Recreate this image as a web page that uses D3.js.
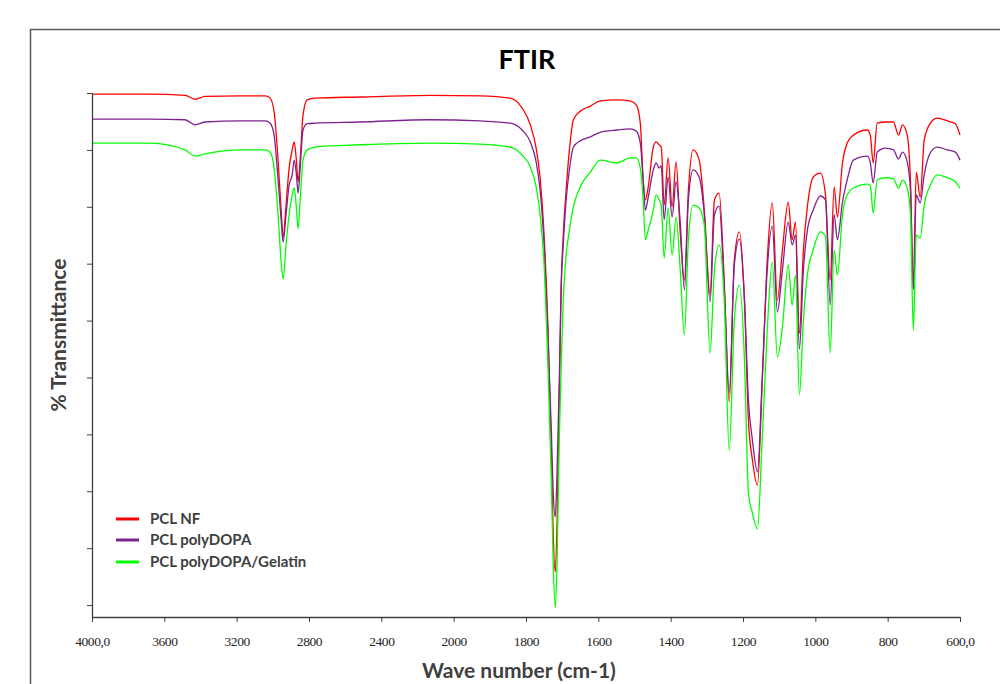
<!DOCTYPE html>
<html>
<head>
<meta charset="utf-8">
<script src="https://cdn.jsdelivr.net/npm/d3@7"></script>
<style>
  body { margin: 0; background: #fff; }
  svg { display: block; }
  .axis path, .axis line { stroke: #404040; }
</style>
</head>
<body>
<svg width="1000" height="684"></svg>
<script>
// wave numbers (cm-1) shared by the three spectra
var wavenumbers = [4000, 3679, 3485, 3430, 3375, 3181, 3043, 3015, 2993, 2971,
  2954, 2943, 2927, 2910, 2893, 2882, 2871, 2860, 2849, 2833,
  2810, 2766, 2517, 2130, 1927, 1844, 1811, 1788, 1772, 1761,
  1750, 1739, 1730, 1725, 1719, 1714, 1708, 1703, 1697, 1689,
  1680, 1669, 1650, 1622, 1595, 1548, 1512, 1495, 1484, 1476,
  1470, 1462, 1448, 1440, 1432, 1426, 1418, 1407, 1396, 1385,
  1374, 1362, 1351, 1338, 1321, 1307, 1291, 1279, 1266, 1252,
  1238, 1224, 1210, 1196, 1185, 1174, 1160, 1147, 1133, 1119,
  1105, 1091, 1075, 1064, 1055, 1044, 1033, 1022, 1006, 986,
  972, 959, 948, 939, 925, 912, 895, 856, 848, 840,
  829, 806, 784, 770, 759, 746, 737, 729, 721, 710,
  699, 682, 663, 635, 613, 600];

// % transmittance
var pclNF = [99.8, 99.8, 99.6, 98.9, 99.4, 99.5, 99.5, 99.1, 96.7, 88.2,
  79.4, 74.7, 80.3, 86.8, 90.0, 91.4, 88.6, 84.4, 88.2, 96.1,
  98.8, 99.1, 99.3, 99.6, 99.5, 99.1, 97.4, 94.4, 90.3, 85.1,
  75.0, 58.3, 37.2, 23.2, 15.8, 24.9, 46.0, 65.4, 75.0, 82.9,
  90.0, 95.3, 96.8, 97.7, 98.6, 98.8, 98.6, 97.9, 94.7, 84.7,
  81.2, 83.5, 90.5, 91.4, 90.9, 90.5, 80.3, 88.6, 80.0, 87.9,
  75.9, 67.1, 82.9, 90.0, 88.2, 79.4, 64.5, 81.2, 82.4, 67.1,
  45.7, 70.6, 75.6, 63.6, 42.5, 35.5, 31.1, 49.0, 70.6, 80.7,
  63.6, 72.4, 80.8, 74.2, 77.3, 57.8, 72.4, 80.0, 85.2, 85.9,
  82.1, 67.1, 83.5, 78.2, 87.7, 91.2, 92.6, 93.5, 92.6, 87.7,
  94.7, 94.9, 94.9, 92.6, 94.4, 92.6, 84.7, 65.7, 86.1, 81.7,
  91.7, 94.7, 95.6, 95.1, 94.6, 92.6];

var pclPolyDOPA = [95.4, 95.4, 95.3, 94.4, 94.9, 95.1, 95.1, 94.7, 92.6, 84.7,
  77.7, 73.8, 78.6, 83.8, 85.6, 88.2, 86.1, 82.4, 86.8, 93.5,
  94.6, 94.7, 94.9, 95.3, 95.1, 94.7, 93.5, 91.4, 87.9, 82.9,
  73.3, 56.6, 40.8, 30.2, 25.5, 33.7, 49.6, 65.4, 73.3, 81.2,
  86.5, 90.5, 91.6, 92.3, 93.1, 93.5, 93.7, 93.3, 91.2, 84.7,
  79.4, 81.7, 86.5, 87.7, 86.8, 87.2, 77.7, 85.2, 78.2, 84.4,
  77.7, 65.4, 81.2, 86.5, 85.2, 78.6, 63.3, 78.6, 80.1, 66.0,
  47.3, 69.8, 74.3, 63.6, 46.0, 39.0, 33.4, 49.6, 68.9, 76.6,
  61.5, 68.9, 77.3, 73.3, 75.0, 55.0, 68.9, 75.9, 79.4, 81.9,
  81.2, 62.7, 78.6, 74.2, 80.8, 84.7, 88.2, 88.9, 87.7, 84.2,
  89.6, 90.3, 90.0, 88.4, 89.6, 87.9, 82.9, 65.4, 82.1, 80.7,
  85.6, 89.5, 90.5, 90.0, 89.6, 88.2];

var pclPolyDOPAGelatin = [91.2, 91.2, 90.0, 88.9, 89.3, 90.0, 90.0, 89.6, 86.8, 78.6,
  70.3, 67.3, 73.3, 78.6, 82.1, 83.3, 80.3, 76.1, 81.2, 88.2,
  90.0, 90.5, 90.9, 91.2, 91.0, 90.5, 89.1, 87.0, 83.5, 78.6,
  69.8, 51.3, 32.0, 17.9, 9.5, 17.9, 39.0, 51.3, 63.6, 71.5,
  75.9, 80.0, 83.5, 86.1, 88.2, 87.7, 88.6, 88.6, 86.8, 81.2,
  74.2, 75.9, 79.4, 82.1, 81.2, 80.3, 71.0, 79.8, 71.5, 78.2,
  69.4, 57.5, 74.2, 80.3, 79.8, 76.8, 54.3, 68.9, 73.3, 63.6,
  37.2, 60.1, 66.2, 53.1, 29.7, 26.2, 23.4, 39.0, 58.3, 70.3,
  53.6, 58.9, 69.8, 62.7, 68.0, 46.9, 60.1, 68.0, 72.4, 75.6,
  74.9, 54.3, 72.4, 68.0, 78.6, 82.1, 83.3, 84.0, 83.7, 78.9,
  84.7, 85.1, 84.9, 83.3, 84.7, 83.3, 78.6, 58.3, 75.0, 74.5,
  80.3, 83.8, 85.6, 85.1, 84.4, 83.3];

var seriesNames = ["PCL NF", "PCL polyDOPA", "PCL polyDOPA/Gelatin"];
var xTickValues = [4000, 3600, 3200, 2800, 2400, 2000, 1800, 1600, 1400, 1200, 1000, 800, 600];
var yTickValues = [10, 20, 30, 40, 50, 60, 70, 80, 90, 100];

function graficar() {

  var svg = d3.select("svg"),
      margin = {top: 93, right: 40, bottom: 67, left: 92},
      width = +svg.attr("width") - margin.left - margin.right,
      height = +svg.attr("height") - margin.top - margin.bottom;

  var colors = ["#ff0000", "#7d2391", "#00ff00"];
  var series = [pclNF, pclPolyDOPA, pclPolyDOPAGelatin];

  // frame round the chart
  svg.append("rect")
      .attr("x", 30.5)
      .attr("y", 29.5)
      .attr("width", 1000)
      .attr("height", 700)
      .attr("fill", "none")
      .attr("stroke", "#595959")
      .attr("stroke-width", 1.5);

  svg.append("text")
      .attr("x", 527)
      .attr("y", 69)
      .attr("text-anchor", "middle")
      .style("font", "bold 27px Lato, sans-serif")
      .attr("fill", "#000")
      .text("FTIR");

  var g = svg.append("g").attr("transform", "translate(" + margin.left + "," + margin.top + ")");

  // the spectrometer scale: 400 cm-1 per division above 2000, 200 below
  var x = d3.scaleLinear()
      .domain([4000, 2000, 600])
      .range([0, width * 5 / 12, width]);

  var y = d3.scaleLinear()
      .domain([7.9, 100])
      .range([height, 0]);

  var line = d3.line()
      .x(function(d) { return x(d[0]); })
      .y(function(d) { return y(d[1]); })
      .curve(d3.curveMonotoneX);

  g.selectAll(".serie")
    .data(series)
    .enter().append("path")
      .attr("class", "serie")
      .attr("fill", "none")
      .attr("stroke", function(d, i) { return colors[i]; })
      .attr("stroke-width", 1.3)
      .attr("d", function(d) { return line(d3.zip(wavenumbers, d)); });

  g.append("g")
      .attr("class", "axis axis--x")
      .attr("transform", "translate(0," + height + ")")
      .call(d3.axisBottom(x)
        .tickValues(xTickValues)
        .tickSizeInner(5)
        .tickSizeOuter(0)
        .tickPadding(14)
        .tickFormat(function(d) { return (d == 4000 || d == 600) ? d + ",0" : d; }));

  g.select(".axis--x").selectAll("text")
      .style("font-family", "'Liberation Serif', 'DejaVu Serif', serif")
      .style("font-size", "13.5px")
      .style("letter-spacing", "-0.4px")
      .attr("fill", "#262626");

  g.append("g")
      .attr("class", "axis axis--y")
      .call(d3.axisLeft(y)
        .tickValues(yTickValues)
        .tickSizeInner(5)
        .tickSizeOuter(0)
        .tickFormat(""));

  g.selectAll(".axis path").attr("stroke-width", 1.3);

  svg.append("text")
      .attr("x", 519)
      .attr("y", 678)
      .attr("text-anchor", "middle")
      .style("font", "bold 21px Lato, sans-serif")
      .attr("fill", "#404040")
      .text("Wave number (cm-1)");

  svg.append("text")
      .attr("transform", "translate(66,335) rotate(-90)")
      .attr("text-anchor", "middle")
      .style("font", "bold 21px Lato, sans-serif")
      .attr("fill", "#404040")
      .text("% Transmittance");

  // legend
  var legend = svg.selectAll(".legend")
    .data(seriesNames)
    .enter().append("g")
      .attr("class", "legend")
      .attr("transform", function(d, i) { return "translate(116," + [519, 540, 562][i] + ")"; });

  legend.append("line")
      .attr("x1", 0)
      .attr("x2", 23)
      .attr("stroke", function(d, i) { return colors[i]; })
      .attr("stroke-width", 3);

  legend.append("text")
      .attr("x", 34)
      .attr("dy", "0.35em")
      .attr("fill", "#404040")
      .style("font", "bold 15px Lato, sans-serif")
      .text(function(d) { return d; });
}

graficar();
</script>
</body>
</html>
